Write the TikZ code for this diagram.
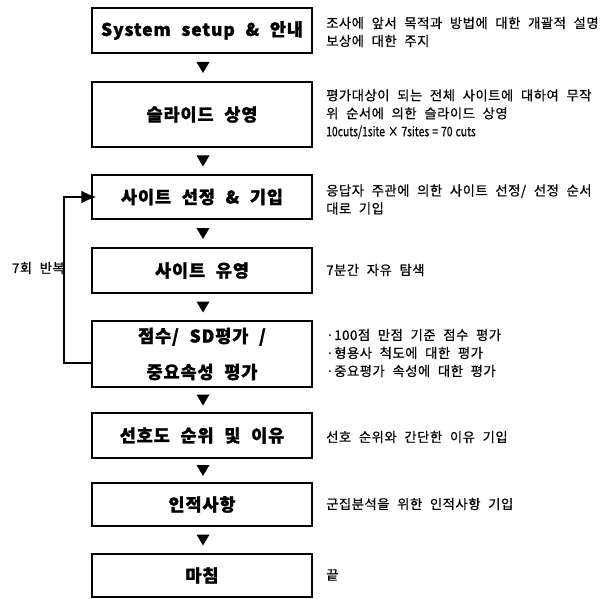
\documentclass[tikz,border=0pt]{standalone}
\usepackage{fontspec}
\setmainfont{Noto Sans CJK KR}
\newfontfamily\boxfamily[LetterSpace=5,WordSpace=2.2,BoldFeatures={FakeBold=1.2}]{Noto Sans CJK KR}
\newfontfamily\notefamily[LetterSpace=4,WordSpace=2.2,FakeBold=0.6]{Noto Sans CJK KR}
\newfontfamily\cutfamily[WordSpace=1.3,FakeBold=0.8]{Noto Sans CJK KR}
\usetikzlibrary{arrows.meta,calc}
\newcommand{\boxfnt}{\boxfamily\bfseries\fontsize{17.5}{20}\selectfont}
\newcommand{\notefnt}{\notefamily\fontsize{13.3}{18}\selectfont}
\newcommand{\cutline}[1]{\scalebox{0.78}[1]{\cutfamily\fontsize{13.3}{18}\selectfont #1}}
\tikzset{
  stepbox/.style={draw, line width=1.3pt, minimum width=220pt, inner sep=0pt, align=center, font=\boxfnt},
  note/.style={anchor=west, inner sep=0pt, align=left, font=\notefnt},
  loopline/.style={line width=1.8pt, -{Latex[length=15pt,width=13pt]}},
  downtri/.style={fill=black},
}
\begin{document}
\begin{tikzpicture}[x=1pt,y=1pt]
\useasboundingbox (0,0) rectangle (605,-599);
\fill[white] (0,0) rectangle (605,-599);
% boxes
\node[stepbox, minimum height=45pt] (b1) at (202,-30.5) {System setup \& 안내};
\node[stepbox, minimum height=65pt] (b2) at (202,-114.5) {슬라이드 상영};
\node[stepbox, minimum height=44pt] (b3) at (202,-197) {사이트 선정 \& 기입};
\node[stepbox, minimum height=45pt] (b4) at (202,-270.5) {사이트 유영};
\node[stepbox, minimum height=66pt] (b5) at (202,-354) {점수/ SD평가 /\\[16pt]중요속성 평가};
\node[stepbox, minimum height=45pt] (b6) at (202,-435.5) {선호도 순위 및 이유};
\node[stepbox, minimum height=43pt] (b7) at (202,-504.5) {인적사항};
\node[stepbox, minimum height=43pt] (b8) at (202,-575.5) {마침};
% triangles
\foreach \a/\b in {b1/b2,b2/b3,b3/b4,b4/b5,b5/b6,b6/b7,b7/b8}{
  \fill[downtri] ($(\a.south)!0.5!(\b.north)+(1,0)$) +(-6.5,5.5) -- +(6.5,5.5) -- +(0,-5.5) -- cycle;
}
% loop
\draw[loopline] ([yshift=-9pt]b5.west) -- ++(-27,0) |- ([xshift=5pt]b3.west);
\node[anchor=east, inner sep=0pt, font=\notefnt] (rep) at (65,-268) {7회 반복};
% notes
\begin{scope}
\clip (0,0) rectangle (605,-599);
\node[note] (n1) at (326,-32) {조사에 앞서 목적과 방법에 대한 개괄적 설명\\보상에 대한 주지};
\node[note] (n2) at (326,-114) {평가대상이 되는 전체 사이트에 대하여 무작\\위 순서에 의한 슬라이드 상영\\\cutline{10cuts/1site × 7sites = 70 cuts}};
\node[note] (n3) at (326,-199.5) {응답자 주관에 의한 사이트 선정/ 선정 순서\\대로 기입};
\node[note] (n4) at (326,-270) {7분간 자유 탐색};
\node[note] (n5) at (326,-353) {·100점 만점 기준 점수 평가\\·형용사 척도에 대한 평가\\·중요평가 속성에 대한 평가};
\node[note] (n6) at (326,-437) {선호 순위와 간단한 이유 기입};
\node[note] (n7) at (326,-504) {군집분석을 위한 인적사항 기입};
\node[note] (n8) at (326,-575) {끝};
\end{scope}
\end{tikzpicture}
\end{document}
